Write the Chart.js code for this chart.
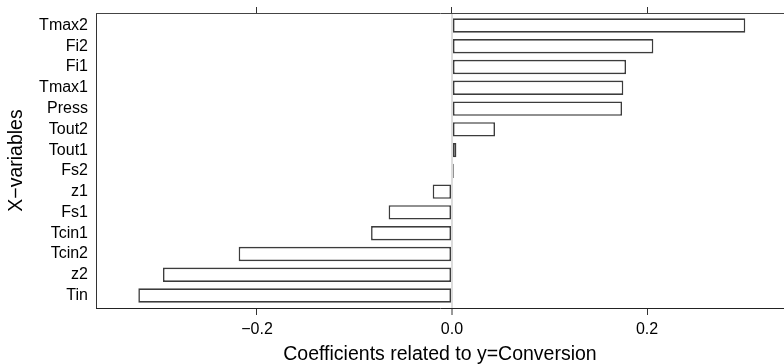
<!DOCTYPE html>
<html>
<head>
<meta charset="utf-8">
<script src="https://cdn.jsdelivr.net/npm/chart.js@4.4.1/dist/chart.umd.min.js"></script>
<style>
html,body{margin:0;padding:0;background:#fff;overflow:hidden;}
canvas{display:block;}
</style>
</head>
<body>
<canvas id="c" width="784" height="364"></canvas>
<script>
const categories = ["Tmax2","Fi2","Fi1","Tmax1","Press","Tout2","Tout1","Fs2","z1","Fs1","Tcin1","Tcin2","z2","Tin"];
const coefficients = [0.3008,0.2065,0.1785,0.1757,0.1744,0.0441,0.0045,0.0018,-0.0198,-0.065,-0.083,-0.2188,-0.2964,-0.3217];
const xTicks = [-0.2, 0.0, 0.2];
const xTitle = "Coefficients related to y=Conversion";
const yTitle = "X\u2212variables";

const X_MIN = -0.3651, X_MAX = 0.3405;
const FONT = "'Liberation Sans', Arial, Helvetica, sans-serif";

const points = categories.map((c, i) => ({x: coefficients[i], y: i}));

function noPad(s) { s.paddingTop = 0; s.paddingBottom = 0; s.paddingLeft = 0; s.paddingRight = 0; }

new Chart(document.getElementById('c'), {
  type: 'bar',
  data: {
    datasets: [{
      data: points,
      backgroundColor: '#ffffff',
      borderColor: '#3c3c3c',
      borderWidth: 1.6,
      borderSkipped: false,
      barPercentage: 0.69,
      categoryPercentage: 1.0
    }]
  },
  options: {
    indexAxis: 'y',
    responsive: false,
    animation: false,
    layout: {padding: 0},
    plugins: {legend: {display: false}, tooltip: {enabled: false}},
    scales: {
      y: {
        type: 'linear',
        position: 'left',
        reverse: true,
        offset: false,
        min: -0.6,
        max: categories.length - 1 + 0.6,
        afterBuildTicks: s => { s.ticks = categories.map((_, i) => ({value: i})); },
        afterFit: s => { s.width = 96; noPad(s); },
        grid: {display: false, drawTicks: false, tickLength: 0},
        border: {display: true, color: '#333', width: 1},
        ticks: {
          padding: 8,
          color: '#000',
          font: {family: FONT, size: 16},
          callback: v => categories[v]
        },
        title: {
          display: true, text: yTitle, color: '#000',
          font: {family: FONT, size: 19.5, lineHeight: 1},
          padding: {top: 7, bottom: 0}
        }
      },
      x: {
        type: 'linear',
        position: 'bottom',
        offset: false,
        min: X_MIN, max: X_MAX,
        afterBuildTicks: s => { s.ticks = xTicks.map(v => ({value: v})); },
        afterFit: s => { s.height = 56; noPad(s); },
        grid: {
          display: true,
          drawOnChartArea: true,
          drawTicks: true,
          tickLength: 7,
          tickColor: '#333',
          tickWidth: 1,
          color: c => (c.tick && c.tick.value === 0) ? '#dcdcdc' : 'rgba(0,0,0,0)',
          lineWidth: c => (c.tick && c.tick.value === 0) ? 2 : 1
        },
        border: {display: true, color: '#222', width: 1},
        ticks: {
          padding: 5,
          color: '#000',
          maxRotation: 0,
          font: {family: FONT, size: 16},
          callback: v => v.toFixed(1).replace('-', '\u2212')
        },
        title: {
          display: true, text: xTitle, color: '#000',
          font: {family: FONT, size: 19.5, lineHeight: 1},
          padding: {top: 0, bottom: 0}
        }
      },
      x2: {
        type: 'linear',
        position: 'top',
        offset: false,
        min: X_MIN, max: X_MAX,
        afterBuildTicks: s => { s.ticks = xTicks.map(v => ({value: v})); },
        afterFit: s => { s.height = 13; noPad(s); },
        grid: {
          display: true,
          drawOnChartArea: false,
          drawTicks: true,
          tickLength: 6,
          tickColor: '#333',
          tickWidth: 1,
          color: 'rgba(0,0,0,0)'
        },
        border: {display: true, color: '#444', width: 1},
        ticks: {display: false}
      }
    }
  }
});
</script>
</body>
</html>
